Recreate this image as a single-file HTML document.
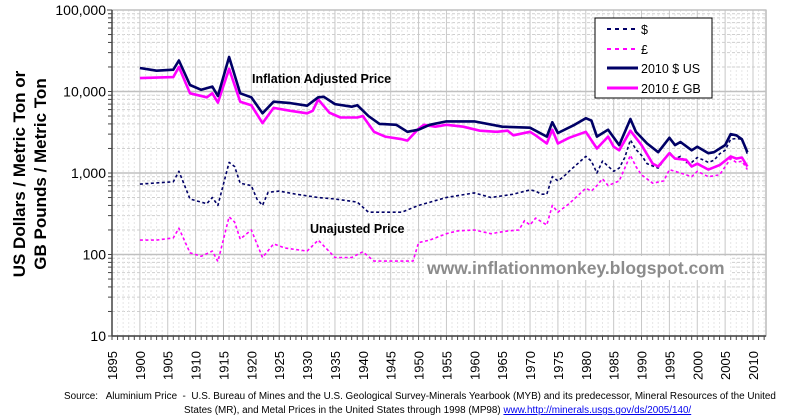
<!DOCTYPE html>
<html><head><meta charset="utf-8"><style>
body{margin:0;background:#fff;font-family:"Liberation Sans",Arial,sans-serif}
svg{display:block}
</style></head><body>
<svg id="c" width="794" height="417">
<g id="grid"></g>
<g id="series"></g>
<g id="axes"></g>
<text x="252" y="83" font-size="12.5" font-weight="bold" font-family="Liberation Sans, sans-serif">Inflation Adjusted Price</text>
<text x="310" y="233" font-size="12.5" font-weight="bold" font-family="Liberation Sans, sans-serif">Unajusted Price</text>
<rect x="424" y="256" width="306" height="24" fill="#fff"/>
<text x="427" y="274" font-size="17.5" font-weight="bold" fill="#8c8c8c" font-family="Liberation Sans, sans-serif">www.inflationmonkey.blogspot.com</text>
<g>
<rect x="595" y="18" width="117" height="80" fill="#fff" stroke="#000" stroke-width="1"/>
<g><line x1="607" y1="29" x2="638" y2="29" stroke="#000066" stroke-width="2" stroke-dasharray="4,4"/><text x="641" y="34" font-size="12.5">$</text></g>
<g><line x1="607" y1="49" x2="638" y2="49" stroke="#ff00ff" stroke-width="2" stroke-dasharray="4,4"/><text x="641" y="54" font-size="12.5">£</text></g>
<g><line x1="607" y1="68" x2="638" y2="68" stroke="#000066" stroke-width="3"/><text x="641" y="73" font-size="12.5">2010 $ US</text></g>
<g><line x1="607" y1="88" x2="638" y2="88" stroke="#ff00ff" stroke-width="3"/><text x="641" y="93" font-size="12.5">2010 £ GB</text></g>
</g>
<g font-size="17" font-weight="bold">
<text transform="translate(25,174) rotate(-90)" text-anchor="middle">US Dollars / Metric Ton or</text>
<text transform="translate(46,174) rotate(-90)" text-anchor="middle">GB Pounds / Metric Ton</text>
</g>
<g font-size="9.9">
<text x="64" y="399">Source:&#160;&#160; Aluminium Price&#160; -&#160; U.S. Bureau of Mines and the U.S. Geological Survey-Minerals Yearbook (MYB) and its predecessor, Mineral Resources of the United</text>
<text x="184" y="413">States (MR), and Metal Prices in the United States through 1998 (MP98) <tspan fill="#0000ee" text-decoration="underline">www.http://minerals.usgs.gov/ds/2005/140/</tspan></text>
</g>
</svg>
<script>
const usdAdjYears=[1900,1903,1906,1907,1909,1911,1913,1914,1916,1918,1920,1922,1924,1927,1930,1932,1933,1935,1938,1939,1941,1943,1946,1948,1950,1952,1955,1960,1965,1970,1973,1974,1975,1978,1980,1981,1982,1984,1986,1988,1989,1991,1993,1995,1996,1997,1999,2000,2002,2003,2005,2006,2007,2008,2009];
const usdAdj=[19400,18000,18500,24000,12000,10500,11500,8800,26500,9500,8500,5400,7500,7200,6700,8500,8600,7000,6500,6800,5000,4000,3900,3200,3400,3900,4300,4300,3700,3600,2800,4200,3100,3900,4700,4400,2800,3400,2200,4600,3200,2300,1800,2700,2200,2400,1900,2100,1750,1800,2200,3000,2900,2600,1800];
const gbpAdjYears=[1900,1906,1907,1909,1912,1913,1914,1916,1918,1920,1922,1924,1927,1930,1931,1932,1934,1936,1939,1940,1942,1944,1947,1948,1950,1951,1953,1955,1958,1961,1964,1966,1967,1970,1971,1973,1974,1975,1977,1980,1982,1984,1985,1986,1988,1990,1992,1993,1995,1996,1998,1999,2000,2002,2004,2006,2007,2008,2009];
const gbpAdj=[14600,15000,20000,9500,8500,9500,7300,19000,7500,6800,4100,6300,5800,5400,5800,8000,5500,4800,4800,5000,3200,2800,2600,2500,3500,3900,3700,3900,3700,3300,3200,3300,2900,3200,2900,2300,3400,2300,2700,3200,2000,2800,2100,1900,3300,2200,1300,1200,1750,1500,1450,1200,1300,1100,1250,1600,1500,1550,1200];
const usdYears=[1900,1906,1907,1909,1912,1913,1914,1916,1917,1918,1920,1921,1922,1923,1925,1928,1932,1935,1939,1941,1945,1947,1950,1955,1960,1963,1967,1970,1971,1972,1973,1974,1975,1976,1977,1980,1981,1982,1983,1985,1986,1987,1988,1989,1990,1991,1993,1995,1996,1997,1998,1999,2000,2001,2002,2003,2004,2005,2006,2007,2008,2009];
const usd=[730,780,1050,480,420,500,400,1350,1200,750,700,480,400,580,600,550,500,480,440,330,330,330,400,500,570,500,550,620,600,550,550,900,800,900,1050,1600,1400,1000,1400,1050,1150,1550,2550,1950,1650,1300,1150,1800,1500,1600,1350,1350,1550,1450,1350,1430,1720,1900,2600,2650,2600,1700];
const gbpYears=[1900,1903,1906,1907,1909,1911,1913,1914,1916,1917,1918,1920,1922,1924,1926,1930,1932,1935,1938,1940,1942,1949,1950,1952,1955,1957,1960,1963,1966,1968,1969,1970,1971,1973,1974,1975,1977,1980,1981,1982,1983,1984,1986,1988,1989,1990,1992,1994,1995,1997,1999,2000,2002,2004,2006,2007,2008,2009];
const gbp=[150,150,160,210,105,95,110,82,290,250,155,200,92,135,120,110,150,92,92,108,83,83,140,150,180,195,200,180,195,200,260,230,280,230,400,330,420,650,600,700,850,700,800,1650,1200,950,750,800,1100,1000,900,1050,900,950,1500,1350,1400,1100];
const yTicks=[10,100,1000,10000,100000];
const yTickLabels=["10","100","1,000","10,000","100,000"];
const xTicks=[1895,1900,1905,1910,1915,1920,1925,1930,1935,1940,1945,1950,1955,1960,1965,1970,1975,1980,1985,1990,1995,2000,2005,2010];

const L=112,R=766,T=10,B=336;
const X=y=>L+(y-1895)*(753-112)/115;
const Y=v=>B-(Math.log10(v)-1)*(B-T)/4;
const NS="http://www.w3.org/2000/svg";
function mk(tag,attrs,parent){const e=document.createElementNS(NS,tag);for(const k in attrs)e.setAttribute(k,attrs[k]);parent.appendChild(e);return e;}
const grid=document.getElementById('grid'),axes=document.getElementById('axes'),ser=document.getElementById('series');
mk('rect',{x:L,y:T,width:R-L,height:B-T,fill:'#fff',stroke:'#999'},grid);
for(let d=1;d<5;d++)for(let m=2;m<10;m++){const v=m*Math.pow(10,d);
 const ln=mk('line',{x1:L,x2:R,y1:Y(v),y2:Y(v),stroke:'#cfcfcf','stroke-dasharray':'3,2'},grid);
 
 }
for(let yr=1896;yr<=2012;yr++){if(yr%5===0)continue;
 const ln=mk('line',{x1:X(yr),x2:X(yr),y1:T,y2:B,stroke:'#e6e6e6','stroke-dasharray':'2,2'},grid);
 
 }
xTicks.forEach(t=>{const ln=mk('line',{x1:X(t),x2:X(t),y1:T,y2:B,stroke:'#c8c8c8'},grid);
 
 });
yTicks.forEach((t,i)=>{const ln=mk('line',{x1:L,x2:R,y1:Y(t),y2:Y(t),stroke:'#c0c0c0','stroke-width':1.5},grid);
 
 
 const tx=mk('text',{x:L-6,y:Y(t)+5,'text-anchor':'end','font-size':14},axes);tx.textContent=yTickLabels[i];
 
 });
mk('line',{x1:L,x2:L,y1:T,y2:B,stroke:'#444','stroke-width':1.5},axes);
mk('line',{x1:L,x2:R,y1:B,y2:B,stroke:'#444','stroke-width':1.5},axes);
for(let d=1;d<5;d++)for(let m=1;m<10;m++){const y=Y(m*Math.pow(10,d));mk('line',{x1:L-4,x2:L,y1:y,y2:y,stroke:'#444'},axes);}
mk('line',{x1:L-5,x2:L,y1:Y(100000),y2:Y(100000),stroke:'#444'},axes);
for(let yr=1895;yr<=2012;yr++)mk('line',{x1:X(yr),x2:X(yr),y1:B,y2:B+4,stroke:'#444'},axes);
xTicks.forEach(t=>{const tx=mk('text',{transform:`translate(${X(t)+5},${B+44}) rotate(-90)`,'font-size':13},axes);tx.textContent=t;
 
 });
function line(years,vals,color,w,dash,name){
 const d=years.map((y,i)=>(i?'L':'M')+X(y).toFixed(1)+','+Y(vals[i]).toFixed(1)).join(' ');
 const p=mk('path',{d:d,fill:'none',stroke:color,'stroke-width':w,'stroke-linejoin':'round'},ser);
 if(dash)p.setAttribute('stroke-dasharray',dash);
 
 }
line(gbpYears,gbp,'#ff00ff',1.6,'3,2.5','series-gbp-nominal');
line(usdYears,usd,'#000066',1.6,'3,2.5','series-usd-nominal');
line(gbpAdjYears,gbpAdj,'#ff00ff',2.6,null,'series-gbp-2010');
line(usdAdjYears,usdAdj,'#000066',2.6,null,'series-usd-2010');
</script>
</body></html>
